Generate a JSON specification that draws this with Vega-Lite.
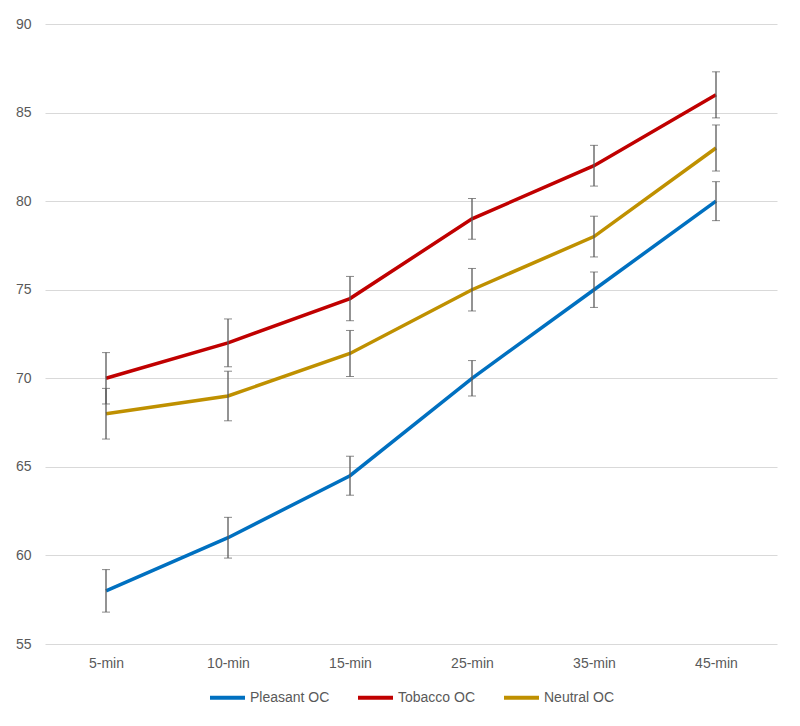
{
  "$schema": "https://vega.github.io/schema/vega-lite/v6.json",
  "width": 732,
  "height": 620,
  "autosize": {"type": "none"},
  "padding": {"left": 45, "top": 24, "right": 23, "bottom": 82},
  "background": "white",
  "config": {
    "font": "Liberation Sans",
    "view": {"stroke": null},
    "axis": {"labelFont": "Liberation Sans", "labelFontSize": 14, "labelColor": "#595959", "tickSize": 0, "domain": false, "gridColor": "#D9D9D9", "gridWidth": 1},
    "legend": {"labelFont": "Liberation Sans", "labelFontSize": 14, "labelColor": "#595959", "layout": {"bottom": {"anchor": "middle"}}}
  },
  "data": {
    "values": [
      {"time": "5-min", "series": "Pleasant OC", "value": 58, "lo": 56.8, "hi": 59.2},
      {"time": "10-min", "series": "Pleasant OC", "value": 61, "lo": 59.85, "hi": 62.15},
      {"time": "15-min", "series": "Pleasant OC", "value": 64.5, "lo": 63.4, "hi": 65.6},
      {"time": "25-min", "series": "Pleasant OC", "value": 70, "lo": 69, "hi": 71},
      {"time": "35-min", "series": "Pleasant OC", "value": 75, "lo": 74, "hi": 76},
      {"time": "45-min", "series": "Pleasant OC", "value": 80, "lo": 78.9, "hi": 81.1},
      {"time": "5-min", "series": "Tobacco OC", "value": 70, "lo": 68.55, "hi": 71.45},
      {"time": "10-min", "series": "Tobacco OC", "value": 72, "lo": 70.65, "hi": 73.35},
      {"time": "15-min", "series": "Tobacco OC", "value": 74.5, "lo": 73.25, "hi": 75.75},
      {"time": "25-min", "series": "Tobacco OC", "value": 79, "lo": 77.85, "hi": 80.15},
      {"time": "35-min", "series": "Tobacco OC", "value": 82, "lo": 80.85, "hi": 83.15},
      {"time": "45-min", "series": "Tobacco OC", "value": 86, "lo": 84.7, "hi": 87.3},
      {"time": "5-min", "series": "Neutral OC", "value": 68, "lo": 66.57, "hi": 69.43},
      {"time": "10-min", "series": "Neutral OC", "value": 69, "lo": 67.6, "hi": 70.4},
      {"time": "15-min", "series": "Neutral OC", "value": 71.4, "lo": 70.1, "hi": 72.7},
      {"time": "25-min", "series": "Neutral OC", "value": 75, "lo": 73.8, "hi": 76.2},
      {"time": "35-min", "series": "Neutral OC", "value": 78, "lo": 76.85, "hi": 79.15},
      {"time": "45-min", "series": "Neutral OC", "value": 83, "lo": 81.7, "hi": 84.3}
    ]
  },
  "encoding": {
    "x": {
      "field": "time", "type": "ordinal",
      "sort": ["5-min", "10-min", "15-min", "25-min", "35-min", "45-min"],
      "scale": {"type": "point", "padding": 0.5},
      "axis": {"labelAngle": 0, "labelPadding": 12, "grid": false, "title": null}
    }
  },
  "layer": [
    {
      "mark": {"type": "line", "strokeWidth": 3.5},
      "encoding": {
        "y": {
          "field": "value", "type": "quantitative",
          "scale": {"domain": [55, 90], "zero": false, "nice": false},
          "axis": {"values": [55, 60, 65, 70, 75, 80, 85, 90], "labelPadding": 14, "grid": true, "title": null}
        },
        "color": {
          "field": "series", "type": "nominal",
          "scale": {"domain": ["Pleasant OC", "Tobacco OC", "Neutral OC"], "range": ["#0070C0", "#C00000", "#BF9000"]},
          "legend": {"title": null, "orient": "bottom", "direction": "horizontal", "symbolType": "stroke", "symbolSize": 1225, "symbolStrokeWidth": 4, "labelOffset": 3, "columnPadding": 20, "offset": 8}
        }
      }
    },
    {
      "mark": {"type": "errorbar", "color": "#595959", "ticks": {"size": 8, "color": "#595959"}, "rule": {"strokeWidth": 1.3}},
      "encoding": {
        "y": {"field": "lo", "type": "quantitative", "title": null},
        "y2": {"field": "hi"}
      }
    }
  ]
}
